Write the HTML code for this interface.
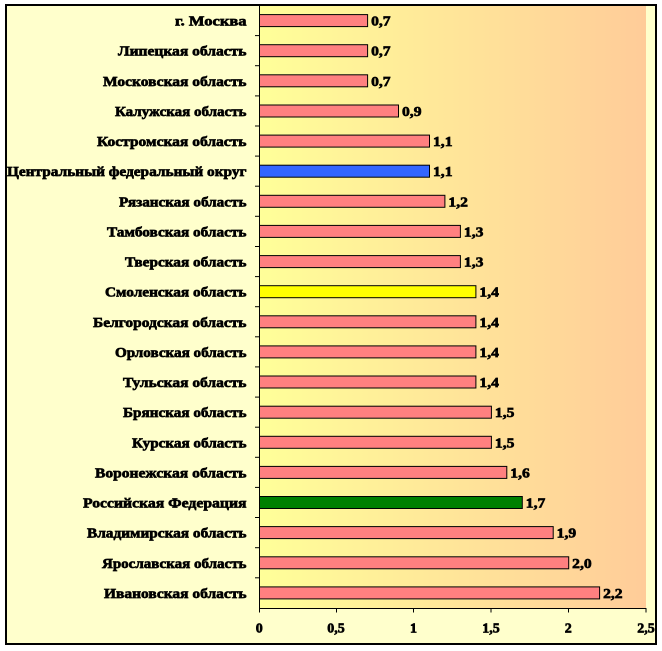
<!DOCTYPE html>
<html><head><meta charset="utf-8">
<style>
html,body{margin:0;padding:0;background:#fff;}
svg{display:block;}
text{font-family:"Liberation Serif","DejaVu Serif","Noto Serif CJK SC",serif;font-weight:bold;font-size:14px;fill:#000;stroke:#000;stroke-width:0.65;}
</style></head>
<body>
<svg width="662" height="651" viewBox="0 0 662 651" xmlns="http://www.w3.org/2000/svg">
<defs>
<linearGradient id="g" x1="0" y1="0" x2="1" y2="0">
<stop offset="0" stop-color="#FFFF99"/>
<stop offset="1" stop-color="#FFCC99"/>
</linearGradient>
<clipPath id="cl"><rect x="7" y="6" width="648" height="637"/></clipPath>
</defs>
<rect x="0" y="0" width="662" height="651" fill="#fff"/>
<rect x="6" y="5" width="650" height="639" fill="#FFFFCC" stroke="#000" stroke-width="2"/>
<rect x="259" y="6" width="387" height="602" fill="url(#g)"/>
<g id="bars" stroke="#000" stroke-width="1"></g>
<g id="labels"></g>
<line x1="259.5" y1="6" x2="259.5" y2="612" stroke="#000" stroke-width="1"/>
<line x1="259" y1="608.5" x2="646.5" y2="608.5" stroke="#000" stroke-width="1"/>
<g id="ticks" stroke="#000" stroke-width="1"></g>
<g clip-path="url(#cl)">
<text x="259.3" y="632.5" text-anchor="middle">0</text>
<text x="336" y="632.5" text-anchor="middle">0,5</text>
<text x="413.5" y="632.5" text-anchor="middle">1</text>
<text x="491" y="632.5" text-anchor="middle">1,5</text>
<text x="568.3" y="632.5" text-anchor="middle">2</text>
<text x="646" y="632.5" text-anchor="middle">2,5</text>
</g>
</svg>
<script>
var data=[
["г. Москва",0.7,"#FF8080",175],
["Липецкая область",0.7,"#FF8080",118],
["Московская область",0.7,"#FF8080",103],
["Калужская область",0.9,"#FF8080",115],
["Костромская область",1.1,"#FF8080",97],
["Центральный федеральный округ",1.1,"#3366FF",7],
["Рязанская область",1.2,"#FF8080",119],
["Тамбовская область",1.3,"#FF8080",107],
["Тверская область",1.3,"#FF8080",125],
["Смоленская область",1.4,"#FFFF00",105],
["Белгородская область",1.4,"#FF8080",93],
["Орловская область",1.4,"#FF8080",115],
["Тульская область",1.4,"#FF8080",123],
["Брянская область",1.5,"#FF8080",123],
["Курская область",1.5,"#FF8080",132],
["Воронежская область",1.6,"#FF8080",95],
["Российская Федерация",1.7,"#008000",83],
["Владимирская область",1.9,"#FF8080",87],
["Ярославская область",2.0,"#FF8080",102],
["Ивановская область",2.2,"#FF8080",104]
];
var NS="http://www.w3.org/2000/svg";
var bars=document.getElementById("bars"),labels=document.getElementById("labels"),ticks=document.getElementById("ticks");
function el(n,a,p,t){var e=document.createElementNS(NS,n);for(var k in a)e.setAttribute(k,a[k]);if(t!=null)e.textContent=t;p.appendChild(e);return e;}
var x0=259.3,sc=154.7;
for(var i=0;i<data.length;i++){
 var d=data[i];var cy=20.6+30.12*i;
 var xe=x0+d[1]*sc;
 el("rect",{x:259.5,y:(cy-6).toFixed(1),width:(xe-259.5).toFixed(1),height:12,fill:d[2]},bars);
 el("text",{x:d[3],y:(cy+5).toFixed(1),textLength:(246.5-d[3]),lengthAdjust:"spacingAndGlyphs"},labels,d[0]);
 var v=d[1].toFixed(1).replace(".",",");
 el("text",{x:(xe+3.5).toFixed(1),y:(cy+5).toFixed(1),textLength:19.5,lengthAdjust:"spacingAndGlyphs"},labels,v);
}
for(var k=1;k<20;k++){var y=(5.5+30.12*k).toFixed(1);el("line",{x1:255,y1:y,x2:259.5,y2:y},ticks);}
[259.5,336.5,413.5,491,568.5,646].forEach(function(x){el("line",{x1:x,y1:608,x2:x,y2:612.5},ticks);});
</script>
</body></html>
